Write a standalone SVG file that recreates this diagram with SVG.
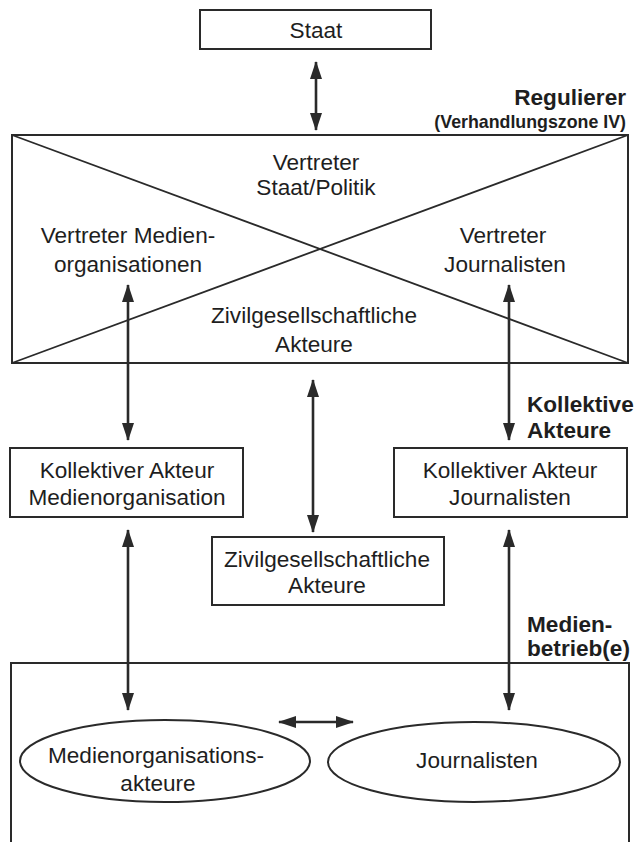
<svg xmlns="http://www.w3.org/2000/svg" width="643" height="842" viewBox="0 0 643 842">
<style>
.bg{fill:#fff}
.box{fill:#fff;stroke:#2a2a2a;stroke-width:2}
.ln{fill:none;stroke:#2a2a2a;stroke-width:1.8}
.t{font-family:"Liberation Sans",Arial,sans-serif;font-size:22.6px;fill:#1e1e1e;text-anchor:middle}
.b{font-family:"Liberation Sans",Arial,sans-serif;font-size:22.6px;font-weight:bold;fill:#1e1e1e}
.s{font-size:17.8px}
.arr{fill:none;stroke:#2a2a2a;stroke-width:2.6;marker-start:url(#ah);marker-end:url(#ah)}
</style>
<defs>
<marker id="ah" markerUnits="userSpaceOnUse" markerWidth="18" markerHeight="12" refX="17" refY="6" orient="auto-start-reverse">
<path d="M0,0 L18,6 L0,12 z" fill="#2a2a2a"/>
</marker>
</defs>
<rect class="bg" x="0" y="0" width="643" height="842"/>

<g id="staat">
<rect class="box" x="200" y="10" width="231" height="39"/>
<text class="t" x="316" y="38">Staat</text>
</g>

<g id="regulierer-label">
<text class="b" x="626" y="105" text-anchor="end">Regulierer</text>
<text class="b s" x="626" y="128" text-anchor="end">(Verhandlungszone IV)</text>
</g>

<g id="regulierer">
<rect class="box" x="12" y="135" width="616" height="228"/>
<line class="ln" x1="12" y1="135" x2="628" y2="363"/>
<line class="ln" x1="628" y1="135" x2="12" y2="363"/>
<text class="t" x="316" y="170">Vertreter</text>
<text class="t" x="316" y="195">Staat/Politik</text>
<text class="t" x="128" y="243">Vertreter Medien-</text>
<text class="t" x="128" y="272">organisationen</text>
<text class="t" x="503" y="243">Vertreter</text>
<text class="t" x="505" y="272">Journalisten</text>
<text class="t" x="314" y="323">Zivilgesellschaftliche</text>
<text class="t" x="314" y="352">Akteure</text>
</g>

<g id="kollektive-label">
<text class="b" x="527" y="412">Kollektive</text>
<text class="b" x="527" y="438">Akteure</text>
</g>

<g id="ka-medienorganisation">
<rect class="box" x="10" y="448" width="233" height="69"/>
<text class="t" x="127" y="478">Kollektiver Akteur</text>
<text class="t" x="127" y="505">Medienorganisation</text>
</g>

<g id="ka-journalisten">
<rect class="box" x="394" y="448" width="233" height="69"/>
<text class="t" x="510" y="478">Kollektiver Akteur</text>
<text class="t" x="510" y="505">Journalisten</text>
</g>

<g id="zivil">
<rect class="box" x="212" y="537" width="232" height="68"/>
<text class="t" x="327" y="567">Zivilgesellschaftliche</text>
<text class="t" x="327" y="593">Akteure</text>
</g>

<g id="medienbetrieb-label">
<text class="b" x="527" y="632">Medien-</text>
<text class="b" x="527" y="656">betrieb(e)</text>
</g>

<g id="medienbetrieb">
<path class="box" d="M11,845 V663 H629 V845" fill="none"/>
</g>

<g id="medienorganisationsakteure">
<ellipse class="box" cx="165" cy="761" rx="145" ry="41"/>
<text class="t" x="156" y="763">Medienorganisations-</text>
<text class="t" x="158" y="791">akteure</text>
</g>

<g id="journalisten">
<ellipse class="box" cx="474" cy="762" rx="146" ry="40"/>
<text class="t" x="477" y="768">Journalisten</text>
</g>

<g id="connectors">
<line class="arr" x1="316" y1="62" x2="316" y2="130"/>
<line class="arr" x1="128" y1="285" x2="128" y2="440"/>
<line class="arr" x1="509" y1="285" x2="509" y2="440"/>
<line class="arr" x1="313" y1="380" x2="313" y2="532"/>
<line class="arr" x1="128" y1="530" x2="128" y2="710"/>
<line class="arr" x1="509" y1="530" x2="509" y2="710"/>
<line class="arr" x1="279" y1="722" x2="353" y2="722"/>
</g>
</svg>
